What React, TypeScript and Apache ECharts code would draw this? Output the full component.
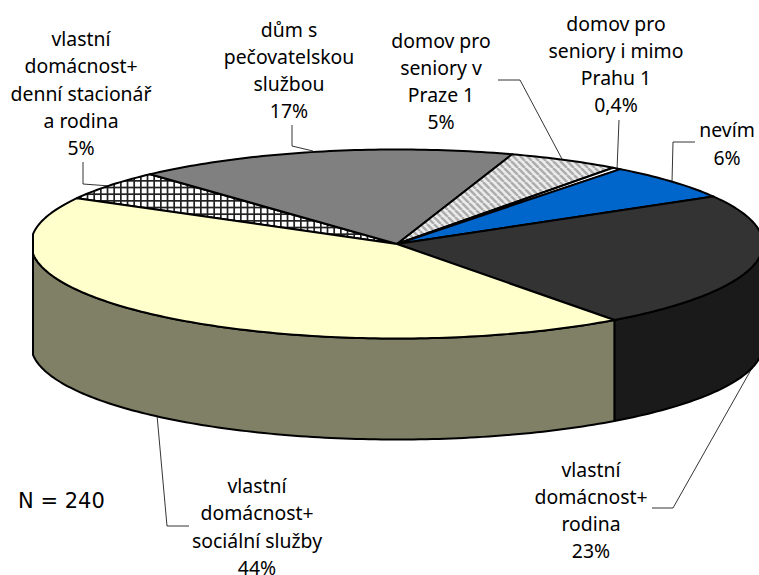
import React, { useEffect, useRef } from "react";
import * as echarts from "echarts";

// clockwise on screen, starting at the upper-left edge of the yellow slice
const categories = [
  "vlastní\ndomácnost+\ndenní stacionář\na rodina",
  "dům s\npečovatelskou\nslužbou",
  "domov pro\nseniory v\nPraze 1",
  "domov pro\nseniory i mimo\nPrahu 1",
  "nevím",
  "vlastní\ndomácnost+\nrodina",
  "vlastní\ndomácnost+\nsociální služby",
];
const sliceValues = [5.2, 17, 5, 0.4, 6.2, 23.45, 43.5];
const percentLabels = ["5%", "17%", "5%", "0,4%", "6%", "23%", "44%"];
const topColors = ["cross", "#808080", "stripes", "#FFFFFF", "#0066CC", "#333333", "#FFFFCC"];
const wallColors = ["#666666", "#404040", "#666666", "#808080", "#003366", "#1A1A1A", "#808066"];
const noteText = "N = 240";

const PIE = { cx: 397, cy: 244, rx: 366, ry: 94.5, depth: 101, startDeg: -151, minX: 33, maxX: 761 };
const FONT = '19.4px "Noto Sans", Tahoma, sans-serif';
const NOTE_FONT = '21px "DejaVu Sans", Verdana, sans-serif';
const labelCenters = [
  [81, 93],
  [289, 70],
  [441, 81],
  [616, 64],
  [727, 143.5],
  [591, 510],
  [257, 526.5],
];
const leaderLines = [
  [[83, 162], [83, 184], [110, 186]],
  [[292, 125], [292, 146], [313, 151]],
  [[498, 80], [520, 80], [562, 159]],
  [[619, 120], [617, 170]],
  [[695, 142], [673, 142], [672, 182]],
  [[652, 508], [673, 508], [752, 368]],
  [[189, 526], [167, 526], [157, 415]],
];

function crossPattern() {
  const c = document.createElement("canvas");
  c.width = 20;
  c.height = 20;
  const g = c.getContext("2d")!;
  g.fillStyle = "#fff";
  g.fillRect(0, 0, 20, 20);
  g.fillStyle = "#222";
  for (let k = 0; k < 3; k++) {
    const p = (k * 20) / 3;
    g.fillRect(p, 0, 1.7, 20);
    g.fillRect(0, p, 20, 1.7);
  }
  return c;
}
function stripePattern() {
  const s = 7;
  const c = document.createElement("canvas");
  c.width = s;
  c.height = s;
  const g = c.getContext("2d")!;
  g.fillStyle = "#ececec";
  g.fillRect(0, 0, s, s);
  g.strokeStyle = "#adadad";
  g.lineWidth = 2.5;
  for (let k = -s; k <= 2 * s; k += s) {
    g.beginPath();
    g.moveTo(k, 0);
    g.lineTo(k + s, s);
    g.stroke();
  }
  return c;
}

const rim = (deg: number, dy = 0) => {
  const a = (deg * Math.PI) / 180;
  const x = PIE.cx + PIE.rx * Math.cos(a);
  return [Math.min(PIE.maxX, Math.max(PIE.minX, x)), PIE.cy + PIE.ry * Math.sin(a) + dy];
};
const arc = (a0: number, a1: number, dy = 0) => {
  const n = Math.max(2, Math.ceil(Math.abs(a1 - a0)));
  const pts: number[][] = [];
  for (let i = 0; i <= n; i++) pts.push(rim(a0 + ((a1 - a0) * i) / n, dy));
  return pts;
};

export default function App() {
  const ref = useRef<HTMLDivElement>(null);
  useEffect(() => {
    document.body.style.margin = "0";
    const chart = echarts.init(ref.current!, undefined, { renderer: "svg" });
    const total = sliceValues.reduce((a, b) => a + b, 0);
    const patterns: Record<string, any> = {
      cross: { image: crossPattern(), repeat: "repeat" },
      stripes: { image: stripePattern(), repeat: "repeat" },
    };
    const fillOf = (c: string) => patterns[c] || c;

    const renderItem = (params: any, api: any) => {
      const i = params.dataIndex;
      let before = 0;
      for (let k = 0; k < i; k++) before += sliceValues[k];
      const a0 = PIE.startDeg + (before / total) * 360;
      const a1 = a0 + (api.value(0) / total) * 360;
      const children: any[] = [];
      const w0 = Math.max(a0, 0);
      const w1 = Math.min(a1, 180);
      if (w1 > w0) {
        children.push({
          type: "polygon",
          shape: { points: [...arc(w0, w1), ...arc(w1, w0, PIE.depth)] },
          style: { fill: wallColors[i], stroke: "#000", lineWidth: 2, lineJoin: "round" },
        });
      }
      children.push({
        type: "polygon",
        shape: { points: [[PIE.cx, PIE.cy], ...arc(a0, a1)] },
        style: { fill: fillOf(topColors[i]), stroke: "#000", lineWidth: 2, lineJoin: "round" },
      });
      return { type: "group", children };
    };

    const graphics: any[] = [];
    leaderLines.forEach((pts) =>
      graphics.push({
        type: "polyline",
        shape: { points: pts },
        style: { stroke: "#000", lineWidth: 0.8, fill: "none" },
      })
    );
    categories.forEach((cat, i) =>
      graphics.push({
        type: "text",
        x: labelCenters[i][0],
        y: labelCenters[i][1],
        style: {
          text: `${cat}\n${percentLabels[i]}`,
          font: FONT,
          fill: "#000",
          align: "center",
          verticalAlign: "middle",
          lineHeight: 27.3,
        },
      })
    );
    graphics.push({
      type: "text",
      x: 18,
      y: 501,
      style: { text: noteText, font: NOTE_FONT, fill: "#000", align: "left", verticalAlign: "middle" },
    });

    chart.setOption({
      animation: false,
      backgroundColor: "#fff",
      series: [
        {
          type: "custom",
          coordinateSystem: "none",
          silent: true,
          clip: false,
          renderItem,
          data: sliceValues.map((v) => [v]),
        },
      ],
      graphic: { elements: graphics },
    });
    return () => chart.dispose();
  }, []);
  return <div ref={ref} style={{ width: 759, height: 575 }} />;
}
